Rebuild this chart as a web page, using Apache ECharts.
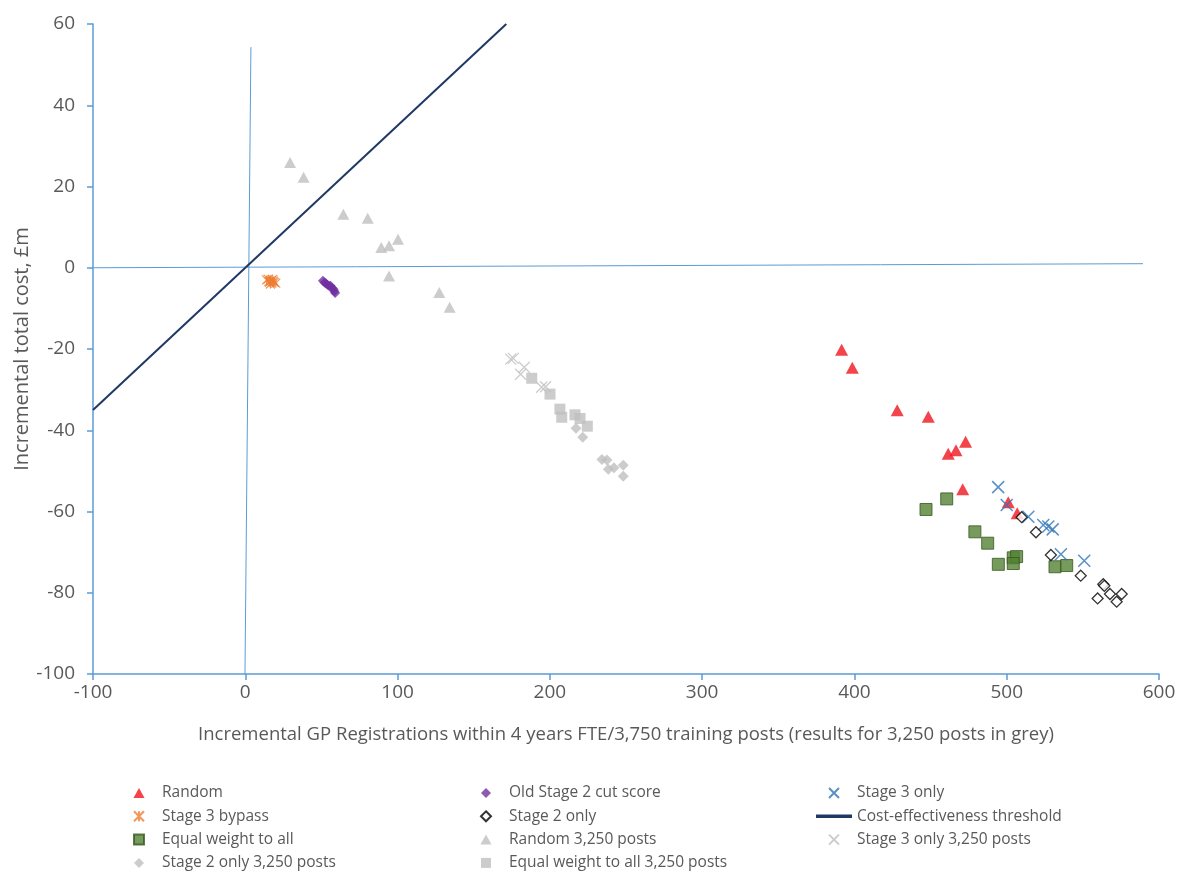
<!DOCTYPE html>
<html>
<head>
<meta charset="utf-8">
<script src="https://cdn.jsdelivr.net/npm/echarts@6/dist/echarts.min.js"></script>
<style>
html,body{margin:0;padding:0;background:#fff;}
#chart{width:1195px;height:873px;}
</style>
</head>
<body>
<div id="chart"></div>
<script>
// ---- Data ----
const randomPts = [[391.6,-20.2],[398.6,-24.6],[428.1,-35.1],[448.5,-36.7],[461.6,-45.8],[466.7,-44.9],[473.0,-42.8],[471.1,-54.5],[501.0,-57.7],[506.9,-60.4]];
const oldStage2Pts = [[51,-3.2],[52,-3.6],[53,-3.9],[54,-4.2],[55,-4.5],[56,-4.4],[57,-5.0],[58,-5.3],[58.5,-5.8],[59,-6.2]];
const stage3OnlyPts = [[494.4,-54.0],[500.0,-58.4],[514.2,-61.3],[524.0,-63.3],[527.3,-63.7],[530.2,-64.4],[535.6,-70.5],[550.9,-72.1]];
const stage3BypassPts = [[14,-3.0],[15,-2.8],[16,-3.5],[17,-3.2],[18,-2.9],[19,-3.6],[16.5,-4.0],[18.5,-3.3],[20,-3.8],[15.5,-3.4]];
const stage2OnlyPts = [[509.8,-61.4],[519.2,-65.1],[529.0,-70.7],[548.6,-75.8],[563.4,-77.9],[564.1,-78.3],[559.7,-81.4],[567.8,-80.3],[572.2,-82.2],[575.5,-80.3]];
const thresholdPts = [[-100,-35],[171.4,60]];
const equalWeightPts = [[447.0,-59.5],[460.6,-56.9],[479.1,-65.0],[487.5,-67.8],[494.5,-73.0],[504.3,-71.4],[506.5,-71.1],[504.3,-72.8],[531.7,-73.6],[539.4,-73.3]];
const random3250Pts = [[29.4,25.9],[38.3,22.3],[64.4,13.2],[80.4,12.2],[89.3,5.0],[94.4,5.4],[100.3,7.0],[94.4,-2.0],[127.4,-6.1],[134.2,-9.7]];
const stage3Only3250Pts = [[174.3,-22.5],[176.0,-22.3],[180.8,-26.2],[183.2,-24.5],[194.6,-29.4],[197.2,-29.3]];
const stage2Only3250Pts = [[217.2,-39.5],[221.6,-41.7],[234.2,-47.2],[237.5,-47.3],[238.4,-49.6],[242.1,-49.2],[248.2,-48.6],[248.2,-51.3]];
const equalWeight3250Pts = [[188.1,-27.2],[200.1,-31.1],[206.6,-34.8],[207.8,-36.8],[216.5,-36.2],[219.8,-37.1],[224.6,-39.0]];
const refVertical = [[3.7,54.3],[-0.2,-100]];
const refHorizontal = [[-100,0],[589.5,1.0]];

const xTicks = {min:-100, max:600, interval:100};
const yTicks = {min:-100, max:60, interval:20};
const xTitle = 'Incremental GP Registrations within 4 years FTE/3,750 training posts (results for 3,250 posts in grey)';
const yTitle = 'Incremental total cost, £m';

// ---- Styles ----
const FONT = 'Open Sans';
const TXT = '#595959';
const AXIS_BLUE = '#5B9BD5';
const SYM = {
  tri: 'path://M5,0L10,9L0,9Z',
  dia: 'path://M5,0L10,5L5,10L0,5Z',
  sq: 'path://M0,0L10,0L10,10L0,10Z',
  x: 'path://M0,0L10,10M10,0L0,10',
  star: 'path://M0,0L10,10M10,0L0,10M5,0L5,10',
  line: 'path://M0,0L36,0L36,3.5L0,3.5Z'
};

function scatter(name, data, symbol, size, itemStyle, z) {
  return {name, type:'scatter', data, symbol, symbolSize:size, itemStyle, z: z||2, silent:true};
}

const series = [
  {name:'ref-h', type:'line', data:refHorizontal, symbol:'none', silent:true, lineStyle:{color:AXIS_BLUE, width:1}, z:1},
  {name:'ref-v', type:'line', data:refVertical, symbol:'none', silent:true, lineStyle:{color:AXIS_BLUE, width:1}, z:1},
  scatter('Random 3,250 posts', random3250Pts, SYM.tri, [12,11], {color:'#BFBFBF'}),
  scatter('Stage 3 only 3,250 posts', stage3Only3250Pts, SYM.x, 11, {color:'#BFBFBF', borderColor:'#BFBFBF', borderWidth:1.3}),
  scatter('Stage 2 only 3,250 posts', stage2Only3250Pts, SYM.dia, 11, {color:'#BFBFBF'}),
  scatter('Equal weight to all 3,250 posts', equalWeight3250Pts, SYM.sq, 11, {color:'#BFBFBF'}),
  {name:'Cost-effectiveness threshold', type:'line', data:thresholdPts, symbol:'none', silent:true, color:'#1F3864', itemStyle:{color:'#1F3864'}, lineStyle:{color:'#1F3864', width:2}, z:3},
  scatter('Stage 3 bypass', stage3BypassPts, SYM.star, 9, {color:'#ED7D31', borderColor:'#ED7D31', borderWidth:1.2}),
  scatter('Old Stage 2 cut score', oldStage2Pts, SYM.dia, 10, {color:'#7030A0'}),
  scatter('Equal weight to all', equalWeightPts, SYM.sq, 12, {color:'#548235', borderColor:'#38571F', borderWidth:1}),
  scatter('Random', randomPts, SYM.tri, [13,12], {color:'#F0141E'}),
  scatter('Stage 3 only', stage3OnlyPts, SYM.x, 12, {color:'#2E75B6', borderColor:'#2E75B6', borderWidth:1.5}),
  scatter('Stage 2 only', stage2OnlyPts, SYM.dia, 11, {color:'#FFFFFF', borderColor:'#000000', borderWidth:1.3}, 4)
];

const legendBase = {
  orient:'vertical', top:785, height:100, padding:0, itemWidth:36, itemHeight:10, itemGap:7.3,
  textStyle:{color:TXT, fontFamily:FONT, fontSize:15.5}, selectedMode:false
};
const col1 = ['Random','Stage 3 bypass','Equal weight to all','Stage 2 only 3,250 posts'];
const col2 = ['Old Stage 2 cut score','Stage 2 only','Random 3,250 posts','Equal weight to all 3,250 posts'];
const col3 = ['Stage 3 only','Cost-effectiveness threshold','Stage 3 only 3,250 posts'];
const iconOf = {
  'Random':SYM.tri,'Stage 3 bypass':SYM.star,'Equal weight to all':SYM.sq,'Stage 2 only 3,250 posts':SYM.dia,
  'Old Stage 2 cut score':SYM.dia,'Stage 2 only':SYM.dia,'Random 3,250 posts':SYM.tri,'Equal weight to all 3,250 posts':SYM.sq,
  'Stage 3 only':SYM.x,'Cost-effectiveness threshold':SYM.line,'Stage 3 only 3,250 posts':SYM.x
};
function legendCol(names, left) {
  return Object.assign({}, legendBase, {left, data: names.map(n => ({name:n, icon:iconOf[n]}))});
}

const chart = echarts.init(document.getElementById('chart'), null, {renderer:'canvas'});
chart.setOption({
  animation:false,
  backgroundColor:'#fff',
  textStyle:{fontFamily:FONT},
  grid:{left:93, right:36, top:24, bottom:199, containLabel:false, outerBoundsMode:'none'},
  xAxis:{
    type:'value', min:xTicks.min, max:xTicks.max, interval:xTicks.interval,
    name:xTitle, nameLocation:'middle', nameGap:51, nameMoveOverlap:false,
    nameTextStyle:{color:TXT, fontSize:18.5, fontFamily:FONT},
    axisLine:{onZero:false, lineStyle:{color:AXIS_BLUE, width:1.5}},
    axisTick:{show:true, length:6, lineStyle:{color:AXIS_BLUE, width:1.5}},
    axisLabel:{color:TXT, fontSize:19, margin:9, fontFamily:FONT},
    splitLine:{show:false}
  },
  yAxis:{
    type:'value', min:yTicks.min, max:yTicks.max, interval:yTicks.interval,
    name:yTitle, nameLocation:'middle', nameGap:61, nameMoveOverlap:false,
    nameTextStyle:{color:TXT, fontSize:20, fontFamily:FONT},
    axisLine:{show:true, onZero:false, lineStyle:{color:AXIS_BLUE, width:1.5}},
    axisTick:{show:true, length:6, lineStyle:{color:AXIS_BLUE, width:1.5}},
    axisLabel:{color:TXT, fontSize:19, margin:18, fontFamily:FONT},
    splitLine:{show:false}
  },
  legend:[legendCol(col1,133), legendCol(col2,480), legendCol(col3,816)],
  series
});
</script>
</body>
</html>
